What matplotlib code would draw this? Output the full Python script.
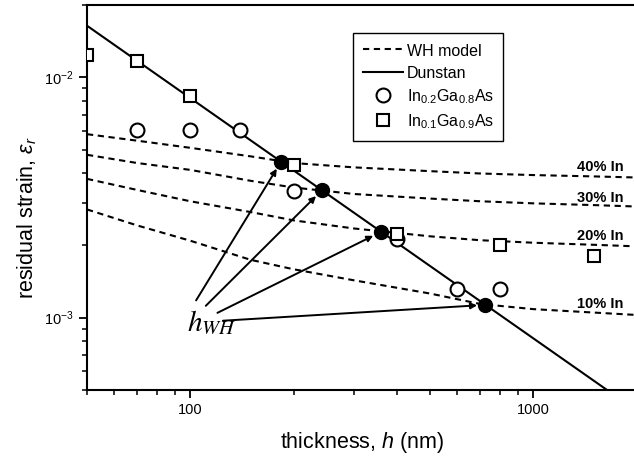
import matplotlib
matplotlib.use('Agg')
import matplotlib.pyplot as plt
from matplotlib.lines import Line2D
from matplotlib.ticker import LogLocator, LogFormatterMathtext, FuncFormatter, NullFormatter

plt.rcParams['font.family'] = 'Liberation Sans'
plt.rcParams['mathtext.fontset'] = 'custom'
plt.rcParams['mathtext.rm'] = 'Liberation Sans'
plt.rcParams['mathtext.it'] = 'Liberation Sans:italic'
plt.rcParams['mathtext.bf'] = 'Liberation Sans:bold'

# WH model curves
h_model = [50, 70, 100, 150, 200, 300, 500, 700, 1000, 1500, 2000]
wh_40 = [5.80e-3, 5.45e-3, 5.09e-3, 4.69e-3, 4.40e-3, 4.22e-3, 4.07e-3, 3.98e-3, 3.92e-3, 3.87e-3, 3.83e-3]
wh_30 = [4.76e-3, 4.40e-3, 4.12e-3, 3.71e-3, 3.48e-3, 3.27e-3, 3.13e-3, 3.05e-3, 2.99e-3, 2.94e-3, 2.90e-3]
wh_20 = [3.78e-3, 3.40e-3, 3.05e-3, 2.75e-3, 2.54e-3, 2.35e-3, 2.18e-3, 2.10e-3, 2.05e-3, 2.01e-3, 1.98e-3]
wh_10 = [2.82e-3, 2.42e-3, 2.09e-3, 1.74e-3, 1.59e-3, 1.43e-3, 1.26e-3, 1.14e-3, 1.085e-3, 1.05e-3, 1.026e-3]
wh_curves = [wh_40, wh_30, wh_20, wh_10]
wh_labels = ['40% In', '30% In', '20% In', '10% In']
label_eps = [4.24e-3, 3.14e-3, 2.18e-3, 1.14e-3]

# Dunstan line (straight on log-log)
h_dun = [50, 1640]
eps_dun = [0.0164, 5.0e-4]

# measurements
h_in02 = [70, 100, 140, 200, 400, 600, 800]
eps_in02 = [6.05e-3, 6.05e-3, 6.05e-3, 3.38e-3, 2.12e-3, 1.31e-3, 1.31e-3]
h_in01 = [50, 70, 100, 200, 400, 800, 1500]
eps_in01 = [0.0124, 0.0117, 8.35e-3, 4.32e-3, 2.22e-3, 2.0e-3, 1.80e-3]

# h_WH intersection points
h_wh = [184, 242, 359, 725]
eps_wh = [4.46e-3, 3.39e-3, 2.27e-3, 1.13e-3]
arrow_tails = [(104, 1.18e-3), (111, 1.12e-3), (120, 1.047e-3), (124.5, 9.71e-4)]

fig = plt.figure(figsize=(6.34, 4.58), dpi=100)
ax = fig.add_axes([0.1372, 0.1485, 0.8669, 0.8406])

dash = (0, (3, 2.2))
for eps in wh_curves:
    ax.plot(h_model, eps, color='k', lw=1.5, linestyle=dash, zorder=2)
ax.plot(h_dun, eps_dun, color='k', lw=1.5, zorder=2)
ax.plot(h_in02, eps_in02, 'o', ms=10, mfc='white', mec='k', mew=1.5, zorder=3)
ax.plot(h_in01, eps_in01, 's', ms=9, mfc='white', mec='k', mew=1.5, zorder=3)
ax.plot(h_wh, eps_wh, 'o', ms=10, color='k', zorder=4)

for lab, y in zip(wh_labels, label_eps):
    ax.text(1830, y, lab, ha='right', va='center', fontsize=10.5, fontweight='bold')

for (xt, yt), xd, yd in zip(arrow_tails, h_wh, eps_wh):
    ax.annotate('', xy=(xd, yd), xytext=(xt, yt),
                arrowprops=dict(arrowstyle='-|>', lw=1.4, color='k',
                                mutation_scale=9, shrinkA=0, shrinkB=6))
ax.text(98, 8.9e-4, r'$h_{WH}$', fontsize=21, math_fontfamily='stix',
        ha='left', va='baseline')

ax.set_xscale('log')
ax.set_yscale('log')
ax.set_xlim(50, 2000)
ax.set_ylim(5e-4, 2e-2)

ax.xaxis.set_major_locator(LogLocator(base=10))
ax.xaxis.set_major_formatter(FuncFormatter(lambda v, p: '%g' % v))
ax.xaxis.set_minor_locator(LogLocator(base=10, subs=range(2, 10)))
ax.xaxis.set_minor_formatter(NullFormatter())
ax.yaxis.set_major_locator(LogLocator(base=10))
ax.yaxis.set_major_formatter(LogFormatterMathtext())
ax.yaxis.set_minor_locator(LogLocator(base=10, subs=range(2, 10)))
ax.yaxis.set_minor_formatter(NullFormatter())

ax.tick_params(which='major', direction='out', length=6, width=1.3, labelsize=10.5, top=False, right=False)
ax.tick_params(which='minor', direction='out', length=3.5, width=1.1, top=False, right=False)
for s in ['left', 'bottom', 'top']:
    ax.spines[s].set_linewidth(1.5)
ax.spines['right'].set_visible(False)

ax.set_xlabel(r'thickness, $h$ (nm)', fontsize=15.5, labelpad=9)
ax.set_ylabel(r'residual strain, $\varepsilon_r$', fontsize=15.5)
ax.yaxis.set_label_coords(-0.088, 0.447)

handles = [
    Line2D([], [], color='k', lw=1.5, linestyle=dash),
    Line2D([], [], color='k', lw=1.5),
    Line2D([], [], marker='o', ls='none', ms=10, mfc='white', mec='k', mew=1.5),
    Line2D([], [], marker='s', ls='none', ms=9, mfc='white', mec='k', mew=1.5),
]
labels = ['WH model', 'Dunstan', r'In$_{0.2}$Ga$_{0.8}$As', r'In$_{0.1}$Ga$_{0.9}$As']
leg = ax.legend(handles, labels, loc='upper left', bbox_to_anchor=(0.484, 0.927),
                borderaxespad=0, fontsize=11.5, handlelength=2.5, handletextpad=0.25,
                handleheight=1.1, borderpad=0.6, labelspacing=0.4,
                fancybox=False, framealpha=1, edgecolor='k')
leg.get_frame().set_linewidth(1.0)

fig.savefig('out.png', dpi=100)
